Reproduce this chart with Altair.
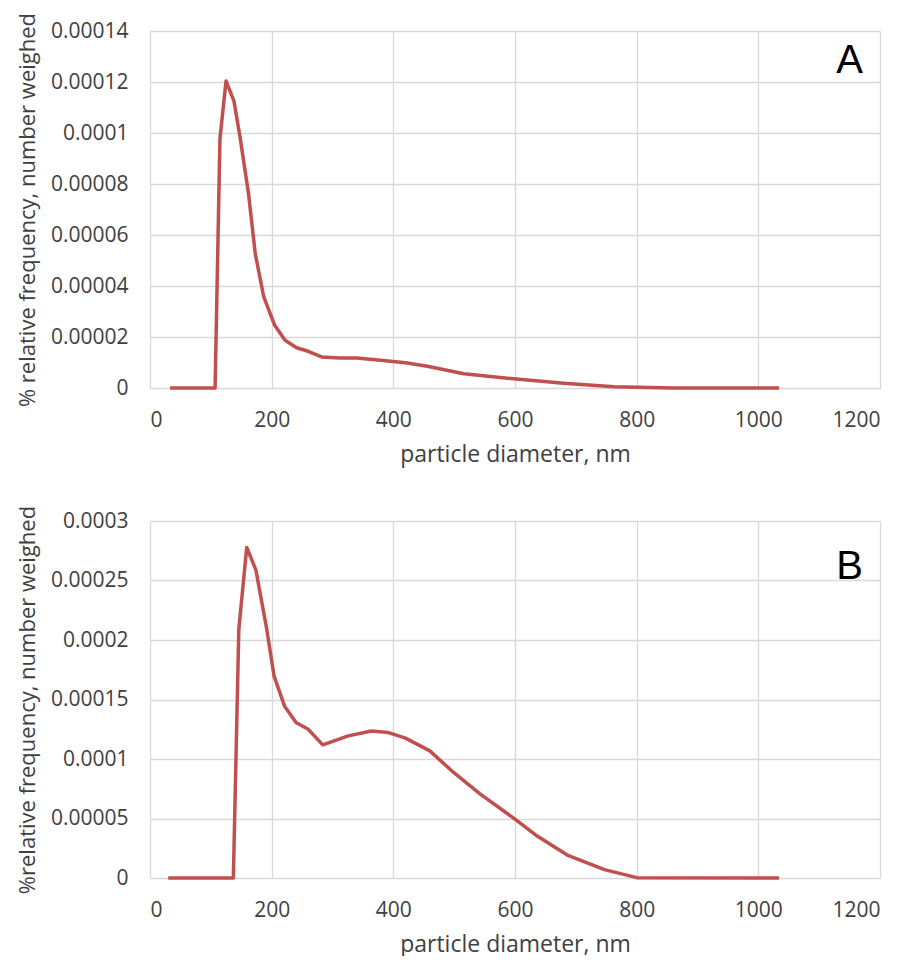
import altair as alt
import pandas as pd

# Panel A data (particle diameter nm, % relative frequency number weighed)
a_diameter = [33, 107, 115, 125, 138, 148, 162, 173, 187, 205, 222, 241, 260, 282,
              312, 340, 379, 420, 456, 516, 598, 680, 763, 861, 1034]
a_freq = [0, 0, 0.0000978, 0.0001204, 0.0001125, 0.0000984, 0.0000762, 0.0000527,
          0.0000357, 0.0000246, 0.0000187, 0.0000158, 0.0000144, 0.0000122,
          0.0000118, 0.0000118, 0.0000109, 0.0000099, 0.0000085, 0.0000056,
          0.0000036, 0.0000019, 0.0000005, 0, 0]

# Panel B data
b_diameter = [30, 137, 146, 159, 174, 191, 204, 221, 240, 260, 284, 326, 364, 392,
              420, 460, 499, 543, 600, 637, 686, 747, 800, 1034]
b_freq = [0, 0, 0.000209, 0.0002777, 0.000259, 0.0002117, 0.0001697, 0.0001446,
          0.0001306, 0.000125, 0.0001119, 0.0001194, 0.0001236, 0.0001222,
          0.0001175, 0.0001068, 0.0000887, 0.0000705, 0.0000495, 0.000035,
          0.0000193, 0.000007, 0.0000003, 0]

x_ticks = [0, 200, 400, 600, 800, 1000, 1200]
a_ticks = [0, 0.00002, 0.00004, 0.00006, 0.00008, 0.0001, 0.00012, 0.00014]
b_ticks = [0, 0.00005, 0.0001, 0.00015, 0.0002, 0.00025, 0.0003]

panel_labels = ["A", "B"]
label_x = [1150, 1150]
label_y = [0.0001284, 0.0002617]

FONT = "Open Sans"
LINE = "#c0504d"
W, H = 730, 357


def panel(xs, ys, ticks, ymax, ytitle, lab, lx, ly):
    df = pd.DataFrame({"d": xs, "f": ys})
    x = alt.X("d:Q", title="particle diameter, nm",
              scale=alt.Scale(domain=[0, 1200], nice=False),
              axis=alt.Axis(values=x_ticks, format="d", labelPadding=21,
                            titlePadding=13, titleFontSize=23))
    y = alt.Y("f:Q", title=ytitle,
              scale=alt.Scale(domain=[0, ymax], nice=False),
              axis=alt.Axis(values=ticks, format="~f", labelPadding=22,
                            titlePadding=11, titleFontSize=22))
    line = alt.Chart(df).mark_line(color=LINE, strokeWidth=3.5,
                                   strokeJoin="round").encode(x=x, y=y)
    tdf = pd.DataFrame({"d": [lx], "f": [ly], "t": [lab]})
    txt = alt.Chart(tdf).mark_text(font="Liberation Sans", fontSize=40,
                                   color="#000000", align="center",
                                   baseline="middle").encode(
        x=alt.X("d:Q"), y=alt.Y("f:Q"), text="t:N")
    return alt.layer(line, txt).properties(width=W, height=H)


top = panel(a_diameter, a_freq, a_ticks, 0.00014,
            "% relative frequency, number weighed", panel_labels[0],
            label_x[0], label_y[0])
bottom = panel(b_diameter, b_freq, b_ticks, 0.0003,
               "%relative frequency, number weighed", panel_labels[1],
               label_x[1], label_y[1])

chart = alt.vconcat(top, bottom, spacing=39).properties(
    padding={"left": 8, "top": 4, "right": 5, "bottom": 0}
).configure_view(strokeWidth=0).configure_axis(
    domain=False, ticks=False, grid=True, gridColor="#d9d9d9", gridWidth=1.3,
    labelFont=FONT, labelFontSize=21, labelColor="#404040",
    titleFont=FONT, titleColor="#404040",
    titleFontWeight="normal"
)

chart.save("out.html", embed_options={"renderer": "svg", "actions": False})
